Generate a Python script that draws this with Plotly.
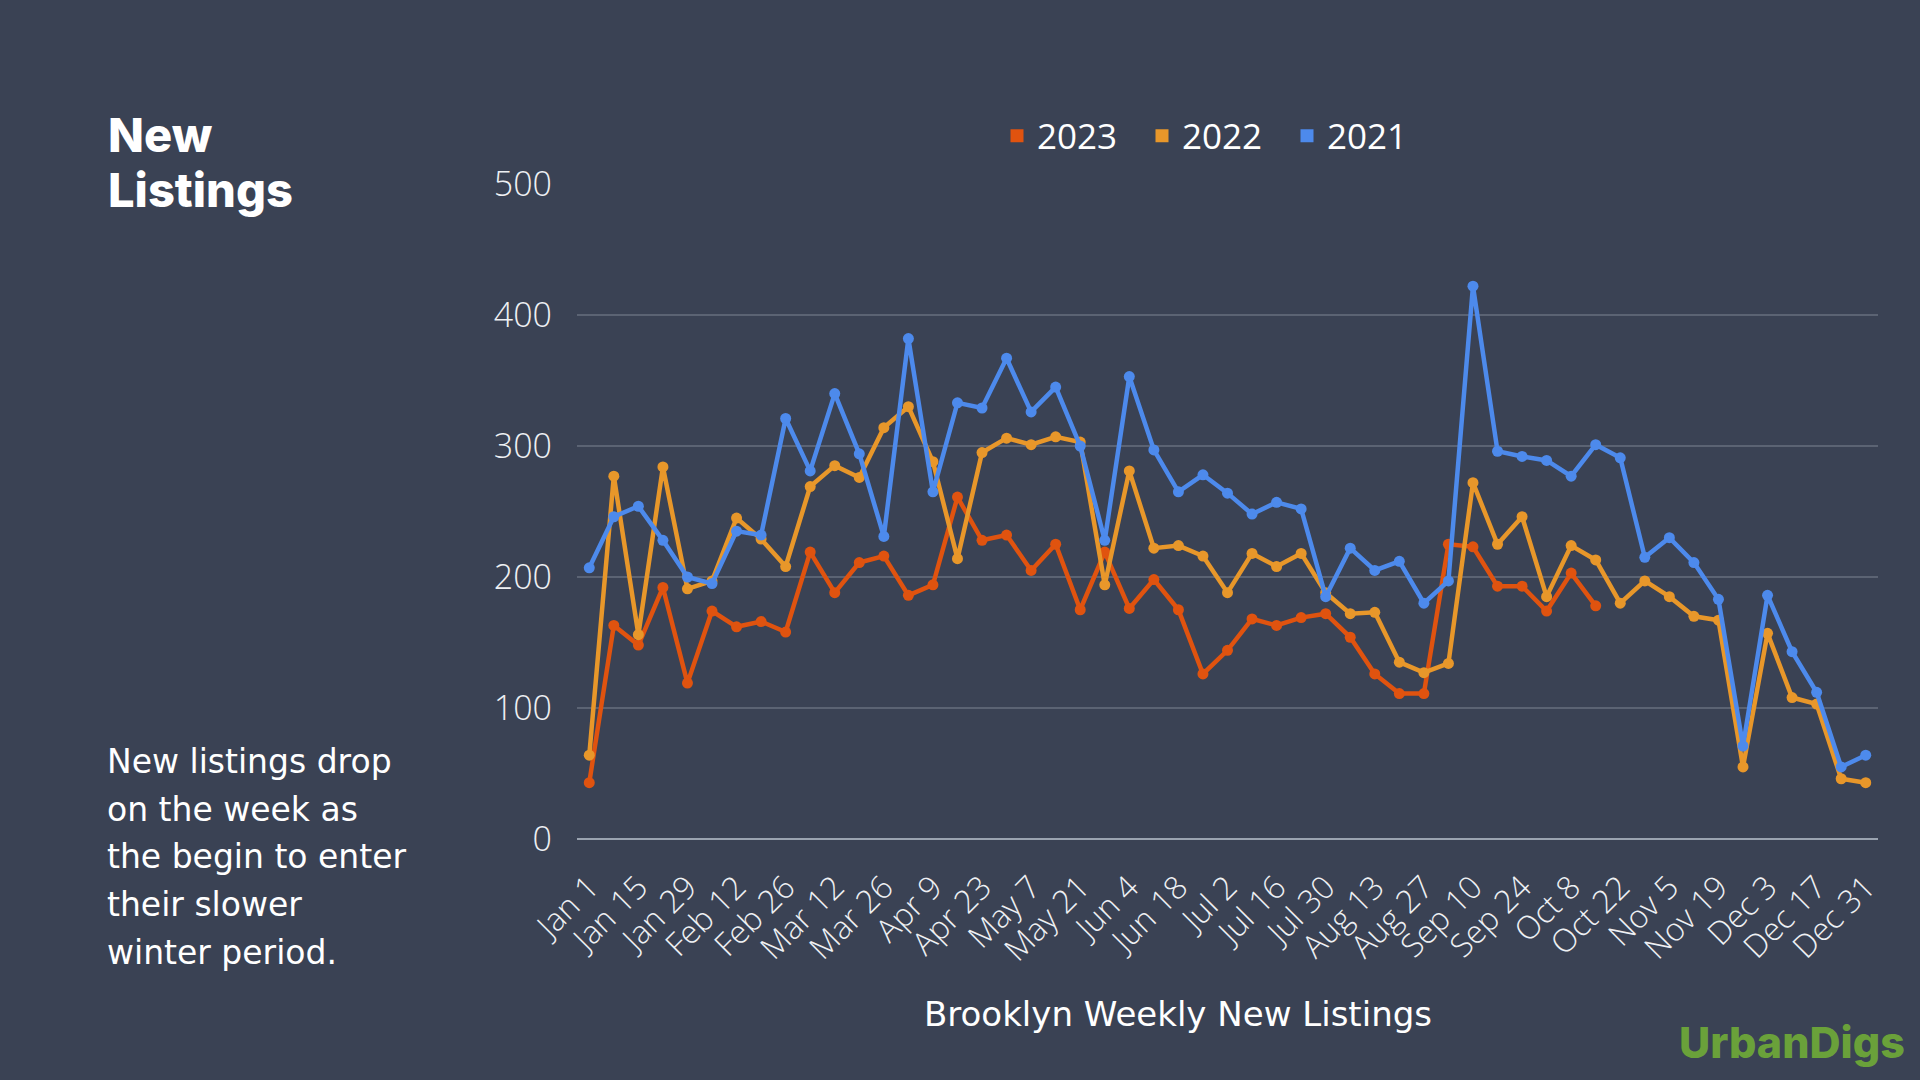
"""Brooklyn weekly new listings, 2021-2023, on a dark slide background."""
import plotly.graph_objects as go

WEEKS = [
    "Jan 1", "Jan 8", "Jan 15", "Jan 22", "Jan 29", "Feb 5", "Feb 12", "Feb 19", "Feb 26",
    "Mar 5", "Mar 12", "Mar 19", "Mar 26", "Apr 2", "Apr 9", "Apr 16", "Apr 23", "Apr 30",
    "May 7", "May 14", "May 21", "May 28", "Jun 4", "Jun 11", "Jun 18", "Jun 25",
    "Jul 2", "Jul 9", "Jul 16", "Jul 23", "Jul 30", "Aug 6", "Aug 13", "Aug 20", "Aug 27",
    "Sep 3", "Sep 10", "Sep 17", "Sep 24", "Oct 1", "Oct 8", "Oct 15", "Oct 22", "Oct 29",
    "Nov 5", "Nov 12", "Nov 19", "Nov 26", "Dec 3", "Dec 10", "Dec 17", "Dec 24", "Dec 31",
]
TICK_LABELS = [
    "Jan 1", "Jan 15", "Jan 29", "Feb 12", "Feb 26", "Mar 12", "Mar 26", "Apr 9", "Apr 23",
    "May 7", "May 21", "Jun 4", "Jun 18", "Jul 2", "Jul 16", "Jul 30", "Aug 13", "Aug 27",
    "Sep 10", "Sep 24", "Oct 8", "Oct 22", "Nov 5", "Nov 19", "Dec 3", "Dec 17", "Dec 31",
]

LISTINGS_2023 = [
    43, 163, 148, 192, 119, 174, 162, 166, 158, 219, 188, 211, 216, 186, 194, 261, 228, 232,
    205, 225, 175, 219, 176, 198, 175, 126, 144, 168, 163, 169, 172, 154, 126, 111, 111,
    225, 223, 193, 193, 174, 203, 178,
]
LISTINGS_2022 = [
    64, 277, 156, 284, 191, 197, 245, 229, 208, 269, 285, 276, 314, 330, 288, 214, 295, 306,
    301, 307, 303, 194, 281, 222, 224, 216, 188, 218, 208, 218, 188, 172, 173, 135, 127,
    134, 272, 225, 246, 185, 224, 213, 180, 197, 185, 170, 167, 55, 157, 108, 103, 46, 43,
]
LISTINGS_2021 = [
    207, 246, 254, 228, 200, 195, 235, 232, 321, 281, 340, 294, 231, 382, 265, 333, 329, 367,
    326, 345, 300, 228, 353, 297, 265, 278, 264, 248, 257, 252, 185, 222, 205, 212, 180,
    197, 422, 296, 292, 289, 277, 301, 291, 215, 230, 211, 183, 71, 186, 143, 112, 55, 64,
]

SERIES = [
    ("2023", LISTINGS_2023, "#e0530f"),
    ("2022", LISTINGS_2022, "#e8972a"),
    ("2021", LISTINGS_2021, "#4d8aec"),
]

BG = "#3a4254"
W, H = 1920, 1080
L, R, T, B = 577, 42, 184, 241


def px(x):
    return (x - L) / (W - L - R)


def py(y):
    return (H - B - y) / (H - T - B)


fig = go.Figure()
for name, values, color in SERIES:
    fig.add_trace(go.Scatter(
        x=WEEKS[:len(values)], y=values, name=name, mode="lines+markers",
        line=dict(color=color, width=4.5), marker=dict(color=color, size=11),
        showlegend=False,
    ))
# square swatches for the legend
for name, values, color in SERIES:
    fig.add_trace(go.Scatter(
        x=[None], y=[None], name=name, mode="markers",
        marker=dict(color=color, size=13, symbol="square"),
    ))

fig.update_xaxes(
    type="category", categoryorder="array", categoryarray=WEEKS,
    range=[-0.5, len(WEEKS) - 0.5],
    tickmode="array", tickvals=TICK_LABELS, ticktext=TICK_LABELS, tickangle=-45,
    tickfont=dict(family="Open Sans", size=32, color="#eef0f3", weight=300),
    ticklabelstandoff=22, showgrid=False, zeroline=False, showline=False,
)
fig.update_yaxes(
    range=[0, 500], tickvals=[0, 100, 200, 300, 400, 500],
    tickfont=dict(family="Open Sans", size=34, color="#eef0f3", weight=300),
    ticklabelstandoff=24, gridcolor="#5b6373", gridwidth=1.5,
    zeroline=True, zerolinecolor="#9aa3b0", zerolinewidth=1.5, showline=False,
)

annotations = [
    dict(text="New", x=px(106), y=py(135), size=47, family="Inter", weight=800),
    dict(text="Listings", x=px(106), y=py(190), size=47, family="Inter", weight=800),
]
note_lines = ["New listings drop", "on the week as", "the begin to enter",
              "their slower", "winter period."]
note_y = [761, 809, 857, 904, 952]
for line, yy in zip(note_lines, note_y):
    annotations.append(dict(text=line, x=px(105), y=py(yy), size=33,
                            family="DejaVu Sans", weight=400))

fig.update_layout(
    width=W, height=H, paper_bgcolor=BG, plot_bgcolor=BG,
    margin=dict(l=L, r=R, t=T, b=B),
    font=dict(family="Open Sans", color="#ffffff"),
    legend=dict(orientation="h", x=px(997), xanchor="left", y=py(136), yanchor="middle",
                entrywidth=100, font=dict(family="Open Sans", size=35, color="#ffffff"),
                bgcolor="rgba(0,0,0,0)"),
    annotations=[
        dict(text=a["text"], x=a["x"], y=a["y"], xref="paper", yref="paper",
             xanchor="left", yanchor="middle", showarrow=False,
             font=dict(family=a["family"], size=a["size"], color="#ffffff", weight=a["weight"]))
        for a in annotations
    ] + [
        dict(text="Brooklyn Weekly New Listings", x=px(1178), y=py(1014),
             xref="paper", yref="paper", xanchor="center", yanchor="middle",
             showarrow=False,
             font=dict(family="DejaVu Sans", size=34, color="#ffffff")),
        dict(text="UrbanDigs", x=px(1907), y=py(1042), xref="paper", yref="paper",
             xanchor="right", yanchor="middle", showarrow=False,
             font=dict(family="Inter", size=43, color="#6aa13a", weight=800)),
    ],
)

fig.write_html(
    "out.html",
    config={"displayModeBar": False},
    post_script="document.body.style.margin='0';document.body.style.overflow='hidden';",
)
